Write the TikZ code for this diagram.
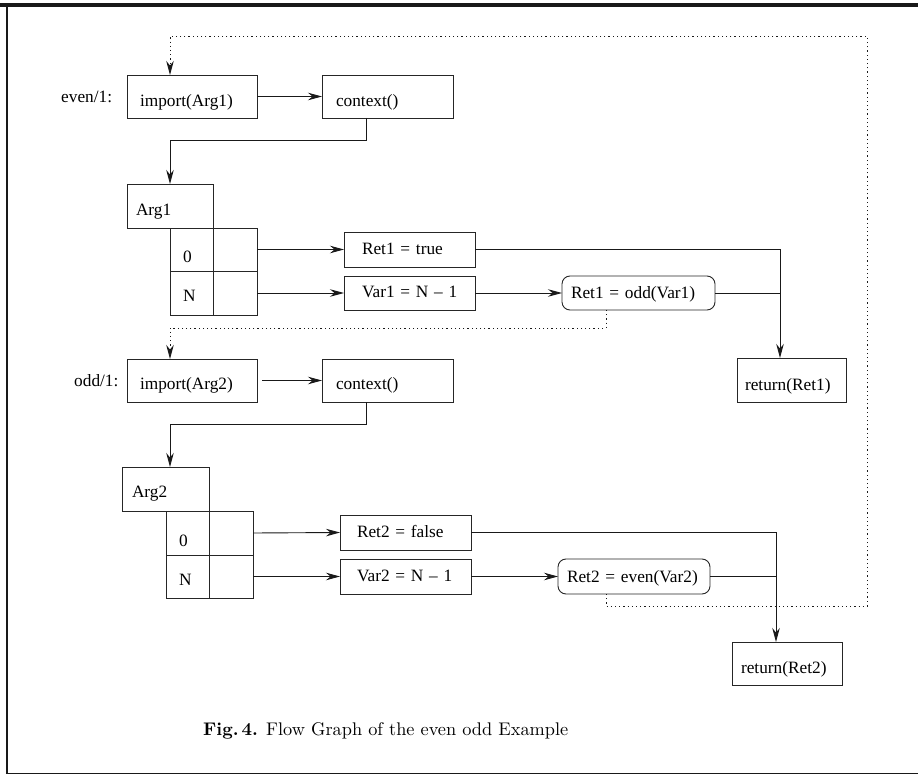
\documentclass[tikz,border=0pt]{standalone}
\usepackage{fontspec}
\usepackage{graphicx}
\newfontfamily\nodefont{Liberation Serif}
\usetikzlibrary{arrows.meta}
\tikzset{
  bx/.style={draw=black!85, line width=0.9pt, rectangle, anchor=north west, outer sep=0pt,
    inner ysep=0pt, text depth=0pt, align=left,
    font=\nodefont\fontsize{17.3}{20}\selectfont},
  cell/.style={draw=black!85, line width=0.9pt, rectangle, anchor=north west, outer sep=0pt, inner sep=0pt},
  rbx/.style={bx, rounded corners=8pt},
  lbl/.style={anchor=base west, inner sep=0pt, font=\nodefont\fontsize{17.3}{20}\selectfont},
  conn/.style={draw=black!90, line width=0.9pt},
  arr/.style={conn, -{Stealth[length=14pt,width=7.5pt]}},
  dotarr/.style={conn, dash pattern=on 1.2pt off 3pt, -{Stealth[length=14pt,width=7.5pt]}},
}
\begin{document}
\begin{tikzpicture}[x=1pt,y=-1pt]
\useasboundingbox (0,0) rectangle (918,775);
% frame
\draw[line width=3.3pt, black!90] (0,5) -- (918,5);
\draw[line width=2pt, black!90] (6.8,3.4) -- (6.8,774.2);
\draw[line width=1.4pt, black!90] (5.8,773.5) -- (918,773.5);

% even/1
\node[lbl] (l1) at (61,103) {even/1:};
\node[bx, minimum height=43pt, inner xsep=13pt, text width=104pt, text height=20pt] (imp1) at (127,75) {\mbox{import(Arg1)}};
\node[bx, minimum height=43pt, inner xsep=14pt, text width=103pt, text height=20pt] (ctx1) at (322,75) {\mbox{context()}};
\node[bx, minimum height=44pt, inner xsep=9pt, text width=68pt, text height=20pt] (arg1) at (127,184) {\mbox{Arg1}};
\node[bx, minimum height=43pt, inner xsep=13pt, text width=17pt, text height=27pt] (g1a) at (170,228) {0};
\node[cell, minimum width=44pt, minimum height=43pt] (g1b) at (213,228) {};
\node[bx, minimum height=44pt, inner xsep=13pt, text width=17pt, text height=18pt] (g1c) at (170,271) {N};
\node[cell, minimum width=44pt, minimum height=44pt] (g1d) at (213,271) {};
\node[bx, minimum height=35pt, inner xsep=18pt, text width=95pt, text height=11pt] (ret1t) at (344,232) {\mbox{Ret1 = true}};
\node[bx, minimum height=34pt, inner xsep=18pt, text width=95pt, text height=10pt] (var1) at (344,276) {\mbox{Var1 = N – 1}};
\node[rbx, minimum height=34pt, inner xsep=9pt, text width=135pt, text height=12pt] (r1odd) at (562,276) {\mbox{Ret1 = odd(Var1)}};
\node[bx, minimum height=44pt, inner xsep=8pt, text width=93pt, text height=22pt] (rt1) at (737,358) {\mbox{return(Ret1)}};

% odd/1
\node[lbl] (l2) at (74,386) {odd/1:};
\node[bx, minimum height=43pt, inner xsep=13pt, text width=104pt, text height=17pt] (imp2) at (127,359) {\mbox{import(Arg2)}};
\node[bx, minimum height=43pt, inner xsep=14pt, text width=103pt, text height=17pt] (ctx2) at (322,359) {\mbox{context()}};
\node[bx, minimum height=44pt, inner xsep=10pt, text width=67pt, text height=17pt] (arg2) at (122,467) {\mbox{Arg2}};
\node[bx, minimum height=44pt, inner xsep=13pt, text width=17pt, text height=26pt] (g2a) at (166,511) {0};
\node[cell, minimum width=44pt, minimum height=44pt] (g2b) at (209,511) {};
\node[bx, minimum height=43pt, inner xsep=13pt, text width=17pt, text height=17pt] (g2c) at (166,555) {N};
\node[cell, minimum width=44pt, minimum height=43pt] (g2d) at (209,555) {};
\node[bx, minimum height=35pt, inner xsep=17pt, text width=97pt, text height=9pt] (ret2f) at (340,515) {\mbox{Ret2 = false}};
\node[bx, minimum height=35pt, inner xsep=17pt, text width=97pt, text height=9pt] (var2) at (340,559) {\mbox{Var2 = N – 1}};
\node[rbx, minimum height=35pt, inner xsep=9pt, text width=134pt, text height=11pt] (r2even) at (558,559) {\mbox{Ret2 = even(Var2)}};
\node[bx, minimum height=43pt, inner xsep=9pt, text width=92pt, text height=19pt] (rt2) at (732,642) {\mbox{return(Ret2)}};

% caption
\node[anchor=base west, inner sep=0pt] (cap) at (203,735) {\scalebox{1.83}{\textbf{Fig.\,4.} Flow Graph of the even odd Example}};

% junction coordinates
\coordinate (j1) at ([xshift=43pt]rt1.north west);
\coordinate (j2) at ([xshift=44pt]rt2.north west);
\coordinate (loopR) at (867,36);

% connectors, even/1
\draw[arr] (imp1.east) -- (ctx1.west);
\draw[arr] ([xshift=44pt]ctx1.south west) -- ++(0,22) -| (arg1.north);
\draw[arr] (g1b.east) -- (ret1t.west);
\draw[arr] (g1d.east) -- (var1.west);
\draw[arr] (var1.east) -- (r1odd.west);
\draw[arr] (ret1t.east) -| (j1);
\draw[conn] (r1odd.east) -- (r1odd.east -| j1);
\draw[dotarr] ([xshift=44pt]r1odd.south west) -- ++(0,18) -| ([xshift=43pt]imp2.north west);

% connectors, odd/1
\draw[arr] ([xshift=5pt]imp2.east) -- (ctx2.west);
\draw[arr] ([xshift=44pt]ctx2.south west) -- ++(0,22) -| ([xshift=48pt]arg2.north west);
\draw[arr] (g2b.east) -- (ret2f.west);
\draw[arr] (g2d.east) -- (var2.west);
\draw[arr] (var2.east) -- (r2even.west);
\draw[arr] (ret2f.east) -| (j2);
\draw[conn] (r2even.east) -- (r2even.east -| j2);
\draw[dotarr] ([xshift=48pt]r2even.south west) -- ++(0,12) -| (loopR) -| ([xshift=43pt]imp1.north west);
\end{tikzpicture}
\end{document}
